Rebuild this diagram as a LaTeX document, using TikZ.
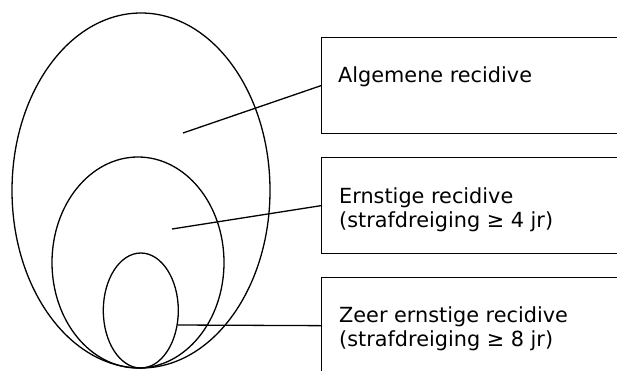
\documentclass[tikz,border=0pt]{standalone}
\usepackage{fontspec}
\setmainfont{DejaVu Sans}
\usetikzlibrary{shapes.geometric}
\begin{document}
\begin{tikzpicture}[x=1pt,y=-1pt,
  ring/.style={draw, ellipse, inner sep=0pt, line width=1.3pt},
  boxnode/.style={draw, rectangle, inner sep=0pt, line width=1.3pt, minimum width=310pt, minimum height=96pt, anchor=north west},
  lbl/.style={anchor=base west, inner sep=0pt, font=\fontsize{20.8}{25}\selectfont},
  conn/.style={line width=1.3pt}]
\useasboundingbox (0,0) rectangle (617,370);
\clip (0,0) rectangle (617,370);
\node[ring, minimum width=258pt, minimum height=355pt] (big) at (141,190.5) {};
\node[ring, minimum width=172pt, minimum height=211pt] (mid) at (138,262.5) {};
\node[ring, minimum width=75pt, minimum height=115pt] (small) at (140.8,310.5) {};
\node[boxnode] (b1) at (321,37) {};
\node[boxnode] (b2) at (321,157) {};
\node[boxnode] (b3) at (321,277) {};
\node[lbl] (t1) at (338,82) {Algemene recidive};
\node[lbl] (t2a) at (339,203) {Ernstige recidive};
\node[lbl] (t2b) at (339,227) {(strafdreiging ≥ 4 jr)};
\node[lbl] (t3a) at (339,322) {Zeer ernstige recidive};
\node[lbl] (t3b) at (339,346) {(strafdreiging ≥ 8 jr)};
\coordinate (p1) at (183,133);
\coordinate (p2) at (172,229);
\coordinate (p3) at (177.5,325);
\draw[conn] (p1) -- (b1.west);
\draw[conn] (p2) -- (b2.west);
\draw[conn] (p3) -- (b3.west);
\end{tikzpicture}
\end{document}
